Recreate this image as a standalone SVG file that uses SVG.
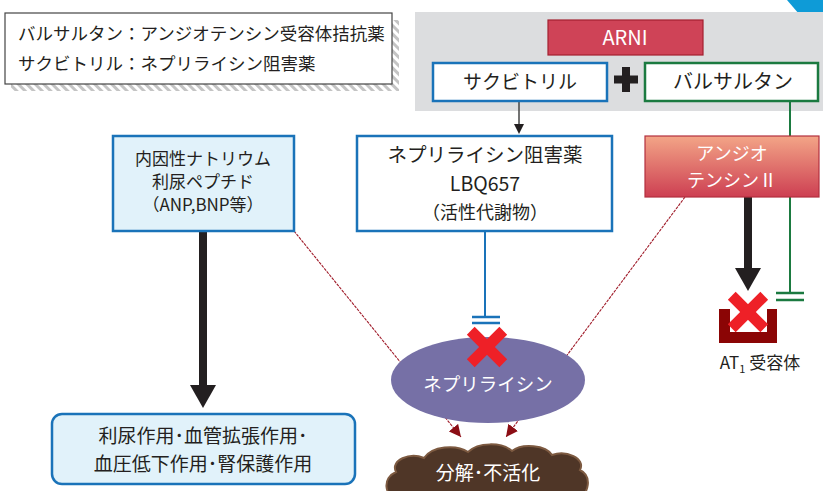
<svg xmlns="http://www.w3.org/2000/svg" width="823" height="491" viewBox="0 0 823 491">
  <style>
    text { font-family: "Noto Sans CJK JP", "Noto Sans", sans-serif; fill: #231f20; text-anchor: middle; }
    .wt { fill: #ffffff; }
    .lg { text-anchor: start; font-size: 17.5px; }
    .blue { fill: #ffffff; stroke: #1a73b9; stroke-width: 2.5; }
    .lblue { fill: #e1f2fa; stroke: #1a73b9; stroke-width: 2.5; }
    .dash { stroke: #a01c2a; stroke-width: 1.1; stroke-dasharray: 3 1; fill: none; }
    .xm { fill: #ee2027; }
  </style>
  <defs>
    <pattern id="hatch" width="6" height="6" patternUnits="userSpaceOnUse" patternTransform="rotate(-45)">
      <rect width="6" height="6" fill="#ffffff"/>
      <rect width="3" height="6" fill="#c4c4c4"/>
    </pattern>
    <linearGradient id="angGrad" x1="0" y1="0" x2="0" y2="1">
      <stop offset="0" stop-color="#f3a587"/>
      <stop offset="1" stop-color="#cd3f52"/>
    </linearGradient>
    <marker id="redArrow" markerUnits="userSpaceOnUse" markerWidth="12" markerHeight="12" viewBox="0 0 10 10" refX="10" refY="5" orient="auto">
      <path d="M0,0 L10,5 L0,10 z" fill="#8b0d14"/>
    </marker>
  </defs>

  <!-- legend -->
  <g id="legend">
    <rect x="392" y="20" width="7" height="71" fill="url(#hatch)"/>
    <rect x="11" y="84" width="388" height="7" fill="url(#hatch)"/>
    <rect x="5" y="13" width="387" height="71" fill="#ffffff" stroke="#444" stroke-width="1.2"/>
    <text class="lg" x="18" y="40">バルサルタン：アンジオテンシン受容体拮抗薬</text>
    <text class="lg" x="18" y="70">サクビトリル：ネプリライシン阻害薬</text>
  </g>

  <!-- ARNI panel -->
  <g id="arni-panel">
    <polygon points="787,0 823,0 823,14 799,14" fill="#0e9bd7"/>
    <rect x="415" y="12" width="408" height="99" fill="#dcdddf"/>
  </g>

  <!-- connectors -->
  <g id="connectors">
    <line class="dash" x1="294" y1="231" x2="461" y2="437" marker-end="url(#redArrow)"/>
    <line class="dash" x1="685" y1="197" x2="506" y2="437" marker-end="url(#redArrow)"/>
    <!-- sacubitril -> LBQ657 -->
    <line x1="519" y1="101" x2="519" y2="125" stroke="#444" stroke-width="1.5"/>
    <polygon points="514,124 524,124 519,134" fill="#231f20"/>
    <!-- LBQ657 inhibits neprilysin -->
    <line x1="485" y1="231" x2="485" y2="317" stroke="#1a73b9" stroke-width="2"/>
    <line x1="472" y1="317" x2="500" y2="317" stroke="#1a73b9" stroke-width="2.5"/>
    <line x1="472" y1="323" x2="500" y2="323" stroke="#1a73b9" stroke-width="2.5"/>
    <!-- valsartan blocks AT1 -->
    <line x1="790" y1="101" x2="790" y2="293" stroke="#1b7a40" stroke-width="2"/>
    <line x1="776" y1="293" x2="804" y2="293" stroke="#1b7a40" stroke-width="2.5"/>
    <line x1="776" y1="300" x2="804" y2="300" stroke="#1b7a40" stroke-width="2.5"/>
    <!-- thick black arrows -->
    <line x1="203" y1="231" x2="203" y2="386" stroke="#231f20" stroke-width="8"/>
    <polygon points="190,385 216,385 203,408" fill="#231f20"/>
    <line x1="748" y1="197" x2="748" y2="269" stroke="#231f20" stroke-width="8"/>
    <polygon points="735,268 761,268 748,291" fill="#231f20"/>
  </g>

  <g id="arni">
    <rect x="548" y="20" width="155" height="35" fill="#cf4357" stroke="#a3202f" stroke-width="1.2"/>
    <text class="wt" x="625" y="45" font-size="20">ARNI</text>
  </g>

  <g id="sacubitril">
    <rect class="blue" x="433" y="63" width="174" height="38"/>
    <text x="520" y="89" font-size="19">サクビトリル</text>
  </g>

  <g id="plus">
    <rect x="622" y="67" width="8" height="25" fill="#231f20"/>
    <rect x="614" y="75.5" width="24" height="8" fill="#231f20"/>
  </g>

  <g id="valsartan">
    <rect x="645" y="63" width="173" height="38" fill="#ffffff" stroke="#1b7a40" stroke-width="2.5"/>
    <text x="733" y="89" font-size="20">バルサルタン</text>
  </g>

  <g id="natriuretic">
    <rect class="lblue" x="113" y="136" width="181" height="95"/>
    <text x="203" y="165" font-size="17">内因性ナトリウム</text>
    <text x="203" y="188" font-size="17">利尿ペプチド</text>
    <text x="203" y="211" font-size="17">（ANP,BNP等）</text>
  </g>

  <g id="lbq657">
    <rect class="blue" x="357" y="136" width="255" height="95"/>
    <text x="485" y="162" font-size="19.5">ネプリライシン阻害薬</text>
    <text x="485" y="191" font-size="19.5">LBQ657</text>
    <text x="485" y="219" font-size="18">（活性代謝物）</text>
  </g>

  <g id="angiotensin">
    <rect x="645" y="136" width="174" height="61" fill="url(#angGrad)" stroke="#b3303f" stroke-width="1.2"/>
    <text class="wt" x="732" y="160" font-size="18">アンジオ</text>
    <text class="wt" x="732" y="187" font-size="18">テンシンⅡ</text>
  </g>

  <g id="at1">
    <path d="M719,309 H730 V332 H767 V309 H777 V343 H719 Z" fill="#8b0505"/>
    <text x="760" y="369" font-size="17">AT<tspan font-size="11" dy="4">1</tspan><tspan dy="-4"> 受容体</tspan></text>
  </g>

  <g id="neprilysin">
    <ellipse cx="488" cy="380" rx="97" ry="43" fill="#7670a6"/>
    <text class="wt" x="488" y="391" font-size="18.5">ネプリライシン</text>
  </g>

  <g id="degradation">
    <path d="M398,500 C384,496 382,478 396,472 C390,460 410,452 424,458 C432,446 456,444 468,452 C478,442 502,442 512,451 C522,443 546,445 552,455 C566,450 586,458 580,470 C592,476 590,494 576,500 Z" fill="#4f3627" stroke="#7d5a41" stroke-width="2"/>
    <text class="wt" x="488" y="480" font-size="19">分解･不活化</text>
  </g>

  <g id="effects">
    <rect class="lblue" x="52" y="414" width="303" height="70" rx="10"/>
    <text x="203" y="443" font-size="19">利尿作用･血管拡張作用･</text>
    <text x="203" y="471" font-size="19">血圧低下作用･腎保護作用</text>
  </g>

  <!-- blocked marks -->
  <g id="blocks">
    <g transform="translate(487,347) rotate(45)">
      <rect class="xm" x="-23" y="-5.5" width="46" height="11"/>
      <rect class="xm" x="-5.5" y="-23" width="11" height="46"/>
    </g>
    <g transform="translate(748,312) rotate(45)">
      <rect class="xm" x="-23" y="-5.5" width="46" height="11"/>
      <rect class="xm" x="-5.5" y="-23" width="11" height="46"/>
    </g>
  </g>
</svg>
